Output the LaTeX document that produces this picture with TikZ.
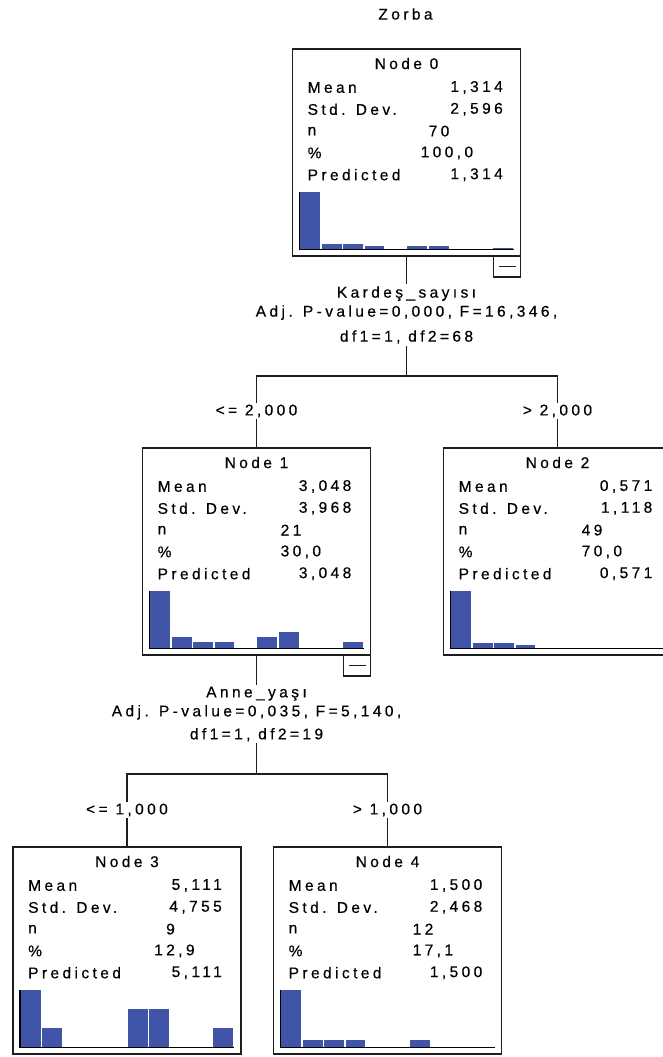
\documentclass[tikz,border=0pt]{standalone}
\usepackage{fontspec}
\newfontfamily\spss{Liberation Sans}[LetterSpace=22,FakeBold=0.4]
\usetikzlibrary{calc}
\definecolor{barblue}{RGB}{64,84,168}
\definecolor{edge}{RGB}{30,30,30}
\tikzset{
  box/.style={draw=edge, line width=1.2pt, fill=white, minimum width=228pt, minimum height=207pt, anchor=north west, outer sep=0pt, inner sep=0pt},
  txt/.style={font=\spss\fontsize{15.5}{17}\selectfont, inner sep=0pt, text=black},
  lab/.style={txt, anchor=west},
  val/.style={txt, anchor=east},
  vl/.style={txt, anchor=west},
  ttl/.style={txt},
  conn/.style={draw=edge, line width=1.3pt},
  cut/.style={txt, fill=white, inner ysep=2pt, inner xsep=1pt},
  split/.style={txt, fill=white, align=center, inner ysep=2pt},
  axis/.style={draw=black, line width=1.5pt},
  minus/.style={draw=edge, line width=1.2pt, fill=white, minimum width=27pt, minimum height=21pt, anchor=north east, outer sep=0pt, inner sep=0pt}
}
% rows: mean, sd, n, noff, pct, poff, pred, value right edge
\newcommand\spssrows[8]{%
  \node[lab] at (15,38.5) {Mean};
  \node[val] at (#8,38.5) {#1};
  \node[lab] at (15,60.3) {Std. Dev.};
  \node[val] at (#8,60.3) {#2};
  \node[lab] at (15,82.1) {n};
  \node[vl] at (#4,82.1) {#3};
  \node[lab] at (15,103.9) {\%};
  \node[vl] at (#6,103.9) {#5};
  \node[lab] at (15,125.7) {Predicted};
  \node[val] at (#8,125.7) {#7};
}
\newcommand\spsshist[1]{%
  \foreach \b/\h in {#1} {
    \fill[barblue] ({7+\b*21.4+0.8},200.5) rectangle ({7+(\b+1)*21.4-0.8},{200.5-\h});
  }
  \draw[axis] (7,142.5) -- (7,200.5) -- (221,200.5);
}
\begin{document}
\begin{tikzpicture}[x=1pt,y=-1pt]
\useasboundingbox (0,0) rectangle (662,1057);
\fill[white] (0,0) rectangle (662,1057);

\node[ttl] (title) at (405.5,14) {Zorba};

% boxes
\node[box] (n0) at (292.5,49) {};
\node[box] (n1) at (142.5,448) {};
\node[box] (n2) at (443.5,448) {};
\node[box] (n3) at (13,847) {};
\node[box] (n4) at (273.5,847) {};
\node[minus] (m0) at (n0.south east) {};
\node[minus] (m1) at (n1.south east) {};
\draw[conn] ([xshift=-22pt,yshift=-10.5pt]m0.north east) -- ([xshift=-5pt,yshift=-10.5pt]m0.north east);
\draw[conn] ([xshift=-22pt,yshift=-10.5pt]m1.north east) -- ([xshift=-5pt,yshift=-10.5pt]m1.north east);

% junctions
\coordinate (j1) at (n0.south |- 0,376);
\coordinate (j2) at (n1.south |- 0,774);
\draw[conn] (n0.south) -- (j1);
\draw[conn] (n1.north) |- (j1) -| (n2.north);
\draw[conn] (n1.south) -- (j2);
\draw[conn] (n3.north) |- (j2) -| (n4.north);

% split labels
\node[split] (s1) at (n0.south |- 0,315) {Kardeş\_sayısı\\[2pt]Adj. P-value=0,000, F=16,346,\\[8pt]df1=1, df2=68};
\node[split] (s2) at (n1.south |- 0,714) {Anne\_yaşı\\[2pt]Adj. P-value=0,035, F=5,140,\\[6pt]df1=1, df2=19};
\node[cut] (c1) at (n1.north |- 0,411) {<= 2,000};
\node[cut] (c2) at (n2.north |- 0,411) {> 2,000};
\node[cut] (c3) at (n3.north |- 0,810) {<= 1,000};
\node[cut] (c4) at (n4.north |- 0,810) {> 1,000};

% Node 0
\begin{scope}[shift={(n0.north west)}]
  \node[ttl] (t0) at (114,14.5) {Node 0};
  \spssrows{1,314}{2,596}{70}{136}{100,0}{128}{1,314}{210.5}
  \spsshist{0/58,1/5.8,2/5.8,3/3.8,5/3.8,6/3.8,9/1.6}
\end{scope}
% Node 1
\begin{scope}[shift={(n1.north west)}]
  \node[ttl] (t1) at (114,14.5) {Node 1};
  \spssrows{3,048}{3,968}{21}{138}{30,0}{138}{3,048}{209}
  \spsshist{0/58,1/12,2/6.5,3/6.5,5/12,6/17,9/6.5}
\end{scope}
% Node 2
\begin{scope}[shift={(n2.north west)}]
  \node[ttl] (t2) at (114,14.5) {Node 2};
  \spssrows{0,571}{1,118}{49}{138}{70,0}{138}{0,571}{209}
  \spsshist{0/58,1/5.8,2/5.8,3/3.8}
\end{scope}
% Node 3
\begin{scope}[shift={(n3.north west)}]
  \node[ttl] (t3) at (114,14.5) {Node 3};
  \spssrows{5,111}{4,755}{9}{153}{12,9}{141}{5,111}{209}
  \spsshist{0/58,1/19.3,5/38.7,6/38.7,9/19.3}
\end{scope}
% Node 4
\begin{scope}[shift={(n4.north west)}]
  \node[ttl] (t4) at (114,14.5) {Node 4};
  \spssrows{1,500}{2,468}{12}{139}{17,1}{139}{1,500}{209}
  \spsshist{0/58,1/7.2,2/7.2,3/7.2,6/7.2}
\end{scope}
\end{tikzpicture}
\end{document}
